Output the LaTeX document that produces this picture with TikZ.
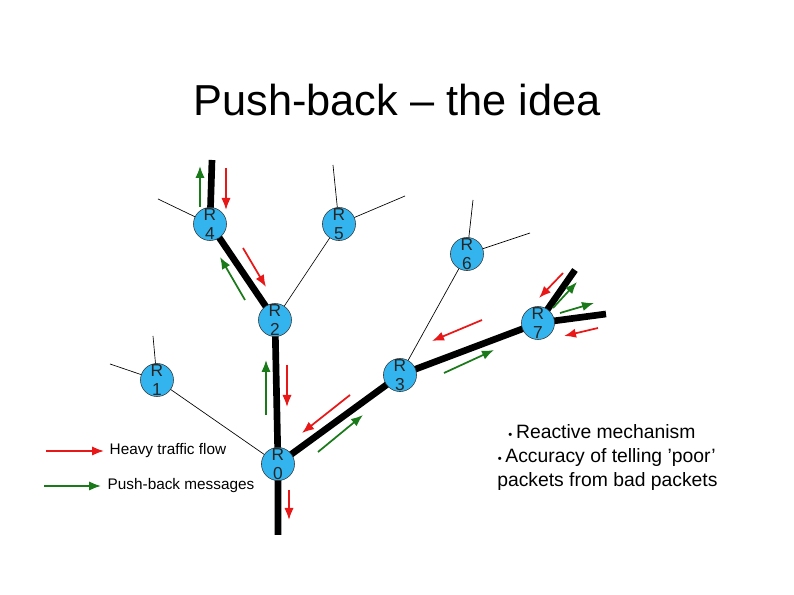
\documentclass[tikz,border=0pt]{standalone}
\usepackage{fontspec}
\setmainfont{Liberation Sans}
\usetikzlibrary{arrows.meta}
\begin{document}
\definecolor{rc}{HTML}{33B4EE}
\definecolor{gr}{HTML}{1A7A1A}
\definecolor{rd}{HTML}{E81818}
\begin{tikzpicture}[x=0.75pt,y=-0.75pt,
 rt/.style={circle,draw=black!80,fill=rc,minimum size=24pt,inner sep=0pt,
   font=\fontsize{13}{15}\selectfont,align=center,text=black!85},
 thin/.style={line width=0.5pt},
 thick/.style={line width=5pt},
 ra/.style={draw=rd,line width=1.3pt,-{Latex[length=9pt,width=7pt]}},
 ga/.style={draw=gr,line width=1.3pt,-{Latex[length=9pt,width=7pt]}}]
\useasboundingbox (0,0) rectangle (794,595);
\node[font=\fontsize{32.5}{32.5}\selectfont] (title) at (397,100) {Push-back – the idea};
\coordinate (t4) at (212,160); \coordinate (b0) at (278,535);
\coordinate (e7a) at (575,270); \coordinate (e7b) at (606,314);
\coordinate (a4) at (158,199); \coordinate (a5) at (333,165); \coordinate (b5) at (405,196);
\coordinate (a6) at (473,200); \coordinate (b6) at (530,233);
\coordinate (a1) at (110,364); \coordinate (b1) at (153,336);
\path (210,224) coordinate (p4) (339,224) coordinate (p5) (467,254) coordinate (p6)
 (275,320) coordinate (p2) (538,323) coordinate (p7) (157,380) coordinate (p1)
 (400,375) coordinate (p3) (278,464) coordinate (p0);
\draw[thin] (p4)--(a4) (p5)--(a5) (p5)--(b5) (p5)--(p2) (p6)--(a6) (p6)--(b6) (p6)--(p3)
 (p1)--(a1) (p1)--(b1) (p1)--(p0);
\draw[thick] (t4)--(p4)--(p2)--(p0)--(b0) (p0)--(p3)--(p7)--(e7a) (p7)--(e7b);
\foreach \n in {0,...,7} {\node[rt] (r\n) at (p\n) {R\\[-1pt]\n};}
\draw[ga] (200,207)--(200,166); \draw[ra] (226,168)--(226,210);
\draw[ra] (243,248)--(266,287); \draw[ga] (245,300)--(220,257);
\draw[ga] (266,415)--(266,360); \draw[ra] (287,365)--(287,407);
\draw[ra] (289,490)--(289,520);
\draw[ra] (350,395)--(302,433); \draw[ga] (318,452)--(363,415);
\draw[ra] (482,320)--(432,341); \draw[ga] (444,373)--(494,350);
\draw[ra] (563,273)--(539,298); \draw[ga] (553,308)--(577,282);
\draw[ga] (560,313)--(594,303); \draw[ra] (598,328)--(564,336);
\draw[ra] (46,451)--(104,451);
\node[anchor=west,font=\fontsize{11.5}{11.5}\selectfont] (lg1) at (105,451) {Heavy traffic flow};
\draw[ga] (44,486)--(101,486);
\node[anchor=west,font=\fontsize{11.5}{11.5}\selectfont] (lg2) at (103,486) {Push-back messages};
\node[anchor=north west,align=left,font=\fontsize{14.5}{18}\selectfont,inner sep=0pt] (bul) at (497,424)
 {\hspace*{8pt}{\tiny\raisebox{1pt}{$\bullet$}}\,Reactive mechanism\\{\tiny\raisebox{1pt}{$\bullet$}}\,Accuracy of telling 'poor'\\packets from bad packets};
\end{tikzpicture}
\end{document}
